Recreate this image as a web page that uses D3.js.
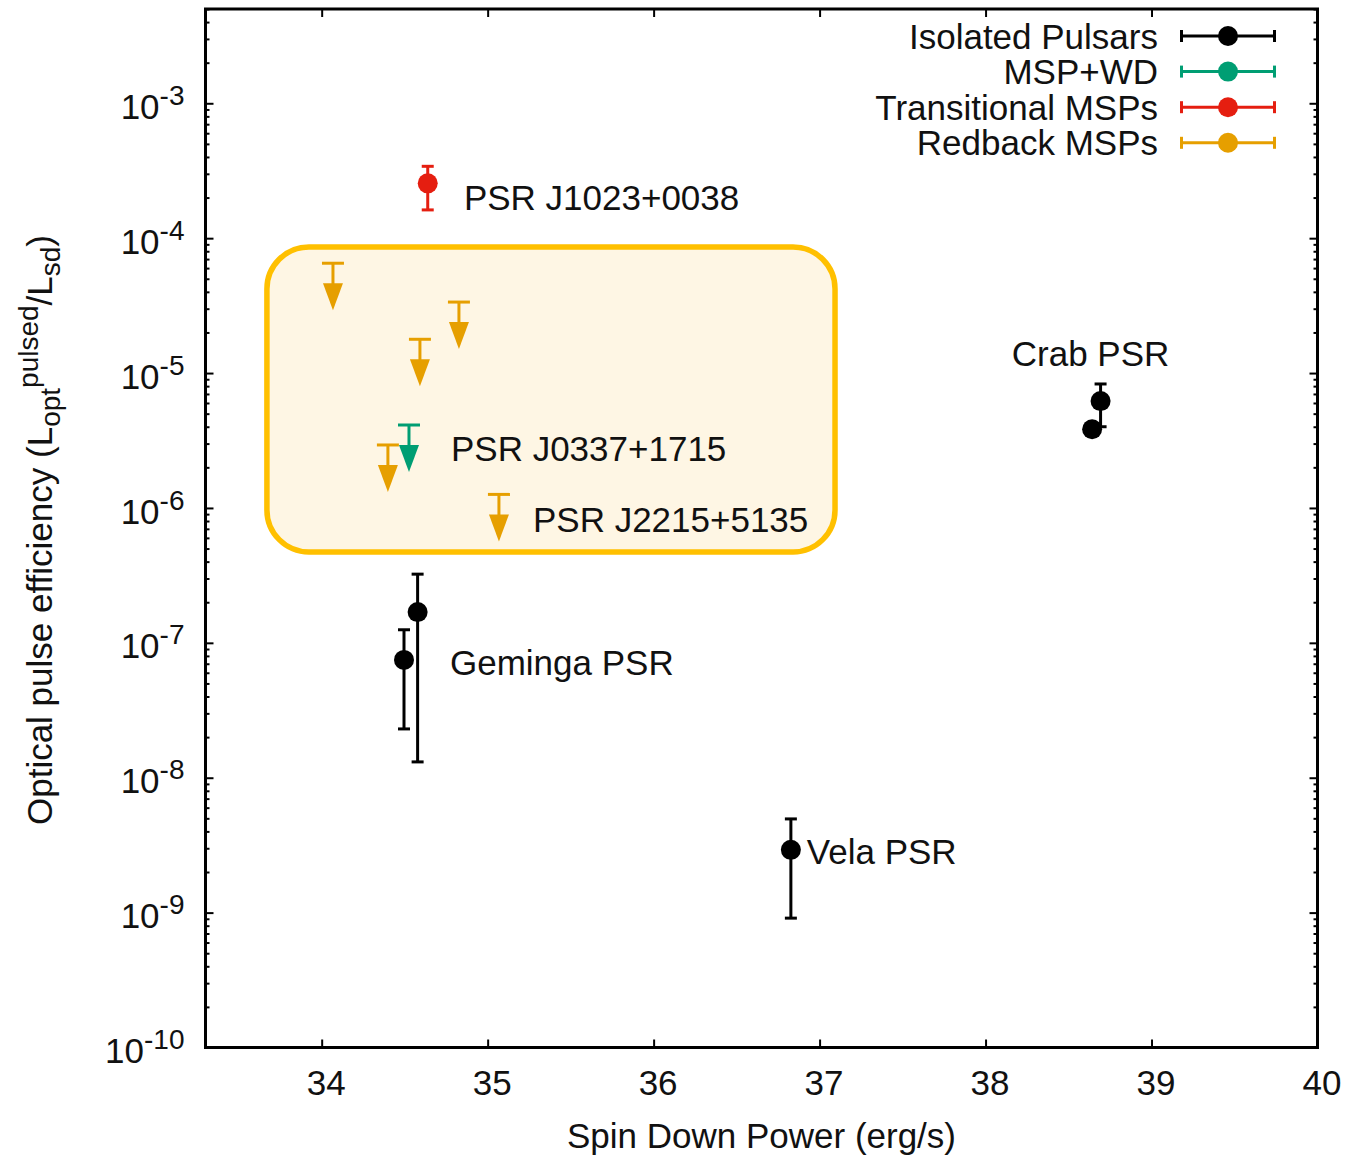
<!DOCTYPE html>
<html lang="en">
<head>
<meta charset="UTF-8">
<title>pulse efficiency</title>
<script src="https://d3js.org/d3.v7.min.js"></script>
<style>
    body { margin: 0; background: #fff; }
    text { font-family: "Liberation Sans", Arial, sans-serif; fill: #111; }
</style>
</head>
<body>
<script>
    // isolated pulsars: Crab (2), Geminga (2), Vela
    var isoX = [38.693, 38.642, 34.496, 34.578, 36.827];
    var isoY = [6.2e-6, 3.83e-6, 7.47e-8, 1.69e-7, 2.92e-9];
    var isoLo = [4.0e-6, 3.83e-6, 2.30e-8, 1.31e-8, 9.1e-10];
    var isoHi = [8.3e-6, 3.83e-6, 1.25e-7, 3.23e-7, 4.95e-9];

    // transitional MSP
    var tmspX = [34.639];
    var tmspY = [2.55e-4];
    var tmspLo = [1.62e-4];
    var tmspHi = [3.41e-4];

    // upper limits
    var rbX = [34.068, 34.827, 34.592, 34.399, 35.068];
    var rbY = [6.52e-5, 3.36e-5, 1.78e-5, 2.93e-6, 1.26e-6];
    var wdX = [34.526];
    var wdY = [4.12e-6];

    var labelText = ["PSR J1023+0038", "PSR J0337+1715", "PSR J2215+5135", "Geminga PSR", "Crab PSR", "Vela PSR"];
    var labelX = [34.857, 34.779, 35.273, 34.773, 38.158, 36.923];
    var labelY = [1.99e-4, 2.74e-6, 8.28e-7, 7.2e-8, 1.39e-5, 2.86e-9];

    var boxX = [33.67, 37.093];
    var boxY = [4.72e-7, 8.6e-5];

    var xTicks = [34, 35, 36, 37, 38, 39, 40];
    var yTickExp = [-10, -9, -8, -7, -6, -5, -4, -3];

    var legendNames = ["Isolated Pulsars", "MSP+WD", "Transitional MSPs", "Redback MSPs"];
    var legendColors = ["#000000", "#009E73", "#E51E10", "#E69F00"];

    var width = 1370;
    var height = 1156;

    var svg = d3.select("body")
        .append("svg")
        .attr("width", width)
        .attr("height", height);

    var x = d3.scaleLinear().domain([33.3, 40]).range([205.5, 1317.5]);
    var y = d3.scaleLog().domain([1e-10, 5e-3]).range([1047.5, 9]);

    var yMajor = yTickExp.map(function (e) { return Math.pow(10, e); });
    var yMinor = [];
    yTickExp.forEach(function (e) {
        for (var m = 2; m <= 9; m++) {
            var v = m * Math.pow(10, e);
            if (v <= 5.0001e-3) yMinor.push(v);
        }
    });

    // highlight box
    svg.append("rect")
        .attr("x", x(boxX[0]))
        .attr("y", y(boxY[1]))
        .attr("width", x(boxX[1]) - x(boxX[0]))
        .attr("height", y(boxY[0]) - y(boxY[1]))
        .attr("rx", 42)
        .attr("fill", "#FEF6E4")
        .attr("stroke", "#FFC000")
        .attr("stroke-width", 5.5);

    // axes
    function styleAxis(g) {
        g.select(".domain").remove();
        g.selectAll(".tick line").attr("stroke", "#000").attr("stroke-width", 2);
    }

    var xAxis = svg.append("g")
        .attr("transform", "translate(0,1047.5)")
        .call(d3.axisBottom(x).tickValues(xTicks).tickSize(-8).tickPadding(23).tickFormat(d3.format("d")))
        .call(styleAxis);
    xAxis.selectAll("text").attr("font-size", 35).attr("fill", "#111").attr("dx", 4);

    svg.append("g")
        .attr("transform", "translate(0,9)")
        .call(d3.axisTop(x).tickValues(xTicks).tickSize(-8).tickFormat(""))
        .call(styleAxis);

    var yAxis = svg.append("g")
        .attr("transform", "translate(205.5,0)")
        .call(d3.axisLeft(y).tickValues(yMajor).tickSize(-8).tickPadding(21).tickFormat(""))
        .call(styleAxis);
    yAxis.selectAll(".tick text")
        .attr("font-size", 35)
        .attr("dy", "0.43em")
        .each(function (d) {
            var t = d3.select(this);
            t.append("tspan").text("10");
            t.append("tspan").attr("font-size", 28).attr("dy", -14).text(Math.round(Math.log10(d)));
        });

    svg.append("g")
        .attr("transform", "translate(205.5,0)")
        .call(d3.axisLeft(y).tickValues(yMinor).tickSize(-4).tickFormat(""))
        .call(styleAxis);

    svg.append("g")
        .attr("transform", "translate(1317.5,0)")
        .call(d3.axisRight(y).tickValues(yMajor).tickSize(-8).tickFormat(""))
        .call(styleAxis);
    svg.append("g")
        .attr("transform", "translate(1317.5,0)")
        .call(d3.axisRight(y).tickValues(yMinor).tickSize(-4).tickFormat(""))
        .call(styleAxis);

    // frame
    svg.append("rect")
        .attr("x", 205.5)
        .attr("y", 9)
        .attr("width", 1317.5 - 205.5)
        .attr("height", 1047.5 - 9)
        .attr("fill", "none")
        .attr("stroke", "#000")
        .attr("stroke-width", 3);

    // axis titles
    svg.append("text")
        .attr("x", (205.5 + 1317.5) / 2)
        .attr("y", 1148)
        .attr("text-anchor", "middle")
        .attr("font-size", 35)
        .text("Spin Down Power (erg/s)");

    var yt = svg.append("text")
        .attr("transform", "translate(52,530) rotate(-90)")
        .attr("text-anchor", "middle")
        .attr("font-size", 35);
    yt.append("tspan").text("Optical pulse efficiency (L");
    yt.append("tspan").attr("font-size", 28).attr("dy", 8).text("opt");
    yt.append("tspan").attr("font-size", 28).attr("dy", -22).text("pulsed");
    yt.append("tspan").attr("dy", 14).text("/L");
    yt.append("tspan").attr("font-size", 28).attr("dy", 8).text("sd");
    yt.append("tspan").attr("dy", -8).text(")");

    // markers
    function errPoint(g, xv, yv, lo, hi, color) {
        var px = x(xv);
        g.append("line")
            .attr("x1", px).attr("x2", px)
            .attr("y1", y(lo)).attr("y2", y(hi))
            .attr("stroke", color).attr("stroke-width", 3);
        [lo, hi].forEach(function (v) {
            g.append("line")
                .attr("x1", px - 6).attr("x2", px + 6)
                .attr("y1", y(v)).attr("y2", y(v))
                .attr("stroke", color).attr("stroke-width", 3);
        });
        g.append("circle")
            .attr("cx", px).attr("cy", y(yv))
            .attr("r", 10)
            .attr("fill", color);
    }

    function upperLimit(g, xv, yv, color) {
        var px = x(xv);
        var py = y(yv);
        g.append("line")
            .attr("x1", px - 11).attr("x2", px + 11)
            .attr("y1", py).attr("y2", py)
            .attr("stroke", color).attr("stroke-width", 3);
        g.append("line")
            .attr("x1", px).attr("x2", px)
            .attr("y1", py).attr("y2", py + 22)
            .attr("stroke", color).attr("stroke-width", 3);
        g.append("path")
            .attr("d", "M" + (px - 10) + "," + (py + 20) + "L" + (px + 10) + "," + (py + 20) + "L" + px + "," + (py + 47) + "Z")
            .attr("fill", color);
    }

    var marks = svg.append("g");
    isoX.forEach(function (d, i) {
        errPoint(marks, isoX[i], isoY[i], isoLo[i], isoHi[i], legendColors[0]);
    });
    tmspX.forEach(function (d, i) {
        errPoint(marks, tmspX[i], tmspY[i], tmspLo[i], tmspHi[i], legendColors[2]);
    });
    rbX.forEach(function (d, i) {
        upperLimit(marks, rbX[i], rbY[i], legendColors[3]);
    });
    wdX.forEach(function (d, i) {
        upperLimit(marks, wdX[i], wdY[i], legendColors[1]);
    });

    // labels
    svg.selectAll(".lbl")
        .data(labelText)
        .enter()
        .append("text")
        .attr("class", "lbl")
        .attr("x", function (d, i) { return x(labelX[i]); })
        .attr("y", function (d, i) { return y(labelY[i]); })
        .attr("dy", "0.36em")
        .attr("font-size", 35)
        .text(function (d) { return d; });

    // legend
    var leg = svg.selectAll(".leg")
        .data(legendNames)
        .enter()
        .append("g")
        .attr("class", "leg")
        .attr("transform", function (d, i) { return "translate(0," + (36 + i * 35.6) + ")"; });
    leg.append("text")
        .attr("x", 1158)
        .attr("dy", "0.36em")
        .attr("text-anchor", "end")
        .attr("font-size", 35)
        .text(function (d) { return d; });
    leg.append("line")
        .attr("x1", 1180).attr("x2", 1276)
        .attr("stroke", function (d, i) { return legendColors[i]; })
        .attr("stroke-width", 3);
    leg.append("line")
        .attr("x1", 1181.5).attr("x2", 1181.5).attr("y1", -6).attr("y2", 6)
        .attr("stroke", function (d, i) { return legendColors[i]; })
        .attr("stroke-width", 3);
    leg.append("line")
        .attr("x1", 1274.5).attr("x2", 1274.5).attr("y1", -6).attr("y2", 6)
        .attr("stroke", function (d, i) { return legendColors[i]; })
        .attr("stroke-width", 3);
    leg.append("circle")
        .attr("cx", 1228)
        .attr("r", 10)
        .attr("fill", function (d, i) { return legendColors[i]; });
</script>
</body>
</html>
